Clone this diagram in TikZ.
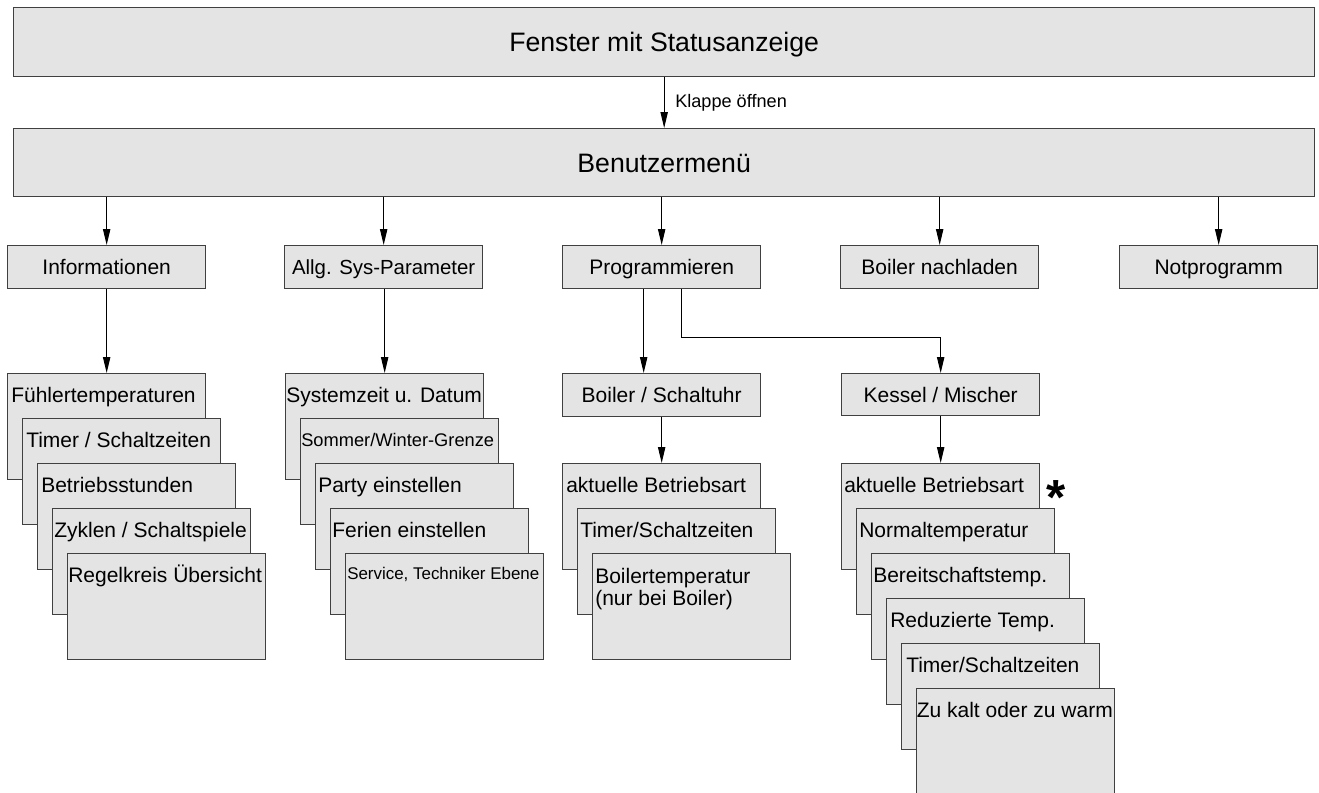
\documentclass[tikz,border=0pt]{standalone}
\usepackage{fontspec}
\setmainfont{Liberation Sans}
\usetikzlibrary{arrows.meta,calc}
\definecolor{boxfill}{HTML}{E4E4E4}
\definecolor{boxline}{HTML}{404040}
\begin{document}
\begin{tikzpicture}[x=0.75pt,y=-0.75pt,
  box/.style={draw=boxline, fill=boxfill, line width=1pt, inner sep=0pt, anchor=north west},
  wide/.style={box, minimum width=1301*0.75pt, font=\fontsize{20}{24}\selectfont, text height=14.3pt, text depth=0pt},
  rowbox/.style={box, minimum width=198*0.75pt, minimum height=43*0.75pt, font=\fontsize{15.75}{19}\selectfont, text height=11.3pt, text depth=0pt},
  stk/.style={box, minimum width=198*0.75pt, minimum height=106*0.75pt},
  lbl/.style={anchor=base west, inner sep=0pt, font=\fontsize{15.75}{19}\selectfont},
  arr/.style={draw=black, line width=0.75pt, -{Triangle[length=12pt,width=5.5pt]}}]
\useasboundingbox (0,0) rectangle (1319,792);
\fill[white] (0,0) rectangle (1319,792);

% top level
\node[wide, minimum height=69*0.75pt] (top) at (13,7) {Fenster mit Statusanzeige};
\node[wide, minimum height=68*0.75pt] (bm) at (13,128) {Benutzermenü};
\draw[arr] (top.south) -- (bm.north);
\node[anchor=base west, inner sep=0pt, font=\fontsize{13.6}{16}\selectfont] (klappe) at (675,108) {Klappe öffnen};

% second row
\node[rowbox] (info) at (7,245) {Informationen};
\node[rowbox, font=\fontsize{15.3}{19}\selectfont] (allg) at (284,245) {Allg. Sys-Parameter};
\node[rowbox] (prog) at (562,245) {Programmieren};
\node[rowbox] (boil) at (840,245) {Boiler nachladen};
\node[rowbox] (notp) at (1119,245) {Notprogramm};
\foreach \n in {info,allg,prog,boil,notp}
  \draw[arr] (bm.south -| \n.north) -- (\n.north);

% Informationen stack
\node[stk] (i1) at (7,373) {};
\node[lbl] (i1t) at ($(i1.north west)+(4,29)$) {Fühlertemperaturen};
\node[stk] (i2) at (22,418) {};
\node[lbl] (i2t) at ($(i2.north west)+(4,29)$) {Timer / Schaltzeiten};
\node[stk] (i3) at (37,463) {};
\node[lbl] (i3t) at ($(i3.north west)+(4,29)$) {Betriebsstunden};
\node[stk] (i4) at (52,508) {};
\node[lbl] (i4t) at ($(i4.north west)+(2,29)$) {Zyklen / Schaltspiele};
\node[stk] (i5) at (67,553) {};
\node[lbl] (i5t) at ($(i5.north west)+(1,29)$) {Regelkreis Übersicht};
\draw[arr] (info.south) -- (info.south |- i1.north);

% Allg. Sys-Parameter stack
\node[stk] (a1) at (285,373) {};
\node[lbl] (a1t) at ($(a1.north west)+(1,29)$) {Systemzeit u. Datum};
\node[stk] (a2) at (300,418) {};
\node[lbl, font=\fontsize{13.7}{16}\selectfont] (a2t) at ($(a2.north west)+(1,28)$) {Sommer/Winter-Grenze};
\node[stk] (a3) at (315,463) {};
\node[lbl] (a3t) at ($(a3.north west)+(3,29)$) {Party einstellen};
\node[stk] (a4) at (330,508) {};
\node[lbl] (a4t) at ($(a4.north west)+(2,29)$) {Ferien einstellen};
\node[stk] (a5) at (345,553) {};
\node[lbl, font=\fontsize{12.7}{15}\selectfont] (a5t) at ($(a5.north west)+(2,26)$) {Service, Techniker Ebene};
\draw[arr] (a1.north |- allg.south) -- (a1.north);

% Programmieren branch
\node[rowbox] (bs) at (562,373) {Boiler / Schaltuhr};
\node[rowbox, minimum height=42*0.75pt] (km) at (841,373) {Kessel / Mischer};
\draw[arr] ([xshift=-18*0.75pt]prog.south) -- ([xshift=-18*0.75pt]prog.south |- bs.north);
\draw[arr] ([xshift=20*0.75pt]prog.south) |- ($(km.north)+(0,-36)$) -- (km.north);

% Boiler / Schaltuhr stack
\node[stk] (b1) at (562,463) {};
\node[lbl] (b1t) at ($(b1.north west)+(4,29)$) {aktuelle Betriebsart};
\node[stk] (b2) at (577,508) {};
\node[lbl] (b2t) at ($(b2.north west)+(3,29)$) {Timer/Schaltzeiten};
\node[stk] (b3) at (592,553) {};
\node[lbl] (b3t) at ($(b3.north west)+(3,30)$) {Boilertemperatur};
\node[lbl] (b3u) at ($(b3.north west)+(3,52)$) {(nur bei Boiler)};
\draw[arr] (bs.south) -- (bs.south |- b1.north);

% Kessel / Mischer stack
\node[stk] (k1) at (841,463) {};
\node[lbl] (k1t) at ($(k1.north west)+(3,29.5)$) {aktuelle Betriebsart};
\node[stk] (k2) at (856,508) {};
\node[lbl] (k2t) at ($(k2.north west)+(3,29.5)$) {Normaltemperatur};
\node[stk] (k3) at (871,553) {};
\node[lbl] (k3t) at ($(k3.north west)+(2,29.5)$) {Bereitschaftstemp.};
\node[stk] (k4) at (886,598) {};
\node[lbl] (k4t) at ($(k4.north west)+(4,29.5)$) {Reduzierte Temp.};
\node[stk] (k5) at (901,643) {};
\node[lbl] (k5t) at ($(k5.north west)+(5,29.5)$) {Timer/Schaltzeiten};
\node[stk] (k6) at (916,688) {};
\node[lbl] (k6t) at ($(k6.north west)+(0.5,29.5)$) {Zu kalt oder zu warm};
\draw[arr] (km.south) -- (km.south |- k1.north);

\node[anchor=base, inner sep=0pt, font=\fontsize{37}{40}\bfseries] (ast) at (1056,514) {*};
\end{tikzpicture}
\end{document}
